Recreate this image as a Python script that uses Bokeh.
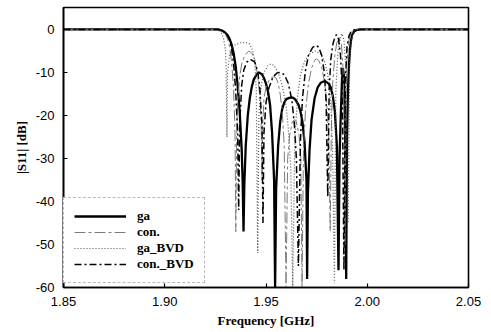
from bokeh.plotting import figure
from bokeh.models import FixedTicker, Range1d
from bokeh.embed import file_html
from bokeh.resources import INLINE

# ---- data (frequency in GHz, |S11| in dB) ----
x_ticks = [1.85, 1.90, 1.95, 2.00, 2.05]
x_tick_labels = ["1.85", "1.90", "1.95", "2.00", "2.05"]
y_ticks = [0, -10, -20, -30, -40, -50, -60]
y_tick_labels = ["0", "-10", "-20", "-30", "-40", "-50", "-60"]

series_names = ["ga", "con.", "ga_BVD", "con._BVD"]

ga = [(1.850, 0), (1.926, 0), (1.928, -0.2), (1.9295, -0.6), (1.931, -1.3), (1.932, -2.2),
      (1.933, -3.5), (1.934, -5.5), (1.935, -8.5), (1.936, -13), (1.937, -19), (1.938, -28),
      (1.9385, -36), (1.9389, -47), (1.9393, -36), (1.940, -27), (1.941, -20), (1.942, -16),
      (1.943, -13.3), (1.944, -11.6), (1.9455, -10.4), (1.9465, -10), (1.948, -10.4),
      (1.949, -11.3), (1.950, -12.6), (1.951, -14.5), (1.952, -17.5), (1.953, -24), (1.954, -35),
      (1.9545, -60), (1.955, -37), (1.956, -27), (1.957, -21.5), (1.958, -18.5), (1.959, -17),
      (1.960, -16.2), (1.9615, -15.9), (1.9625, -15.8), (1.9635, -15.9), (1.9645, -16.3),
      (1.966, -17.5), (1.967, -19), (1.968, -21.5), (1.969, -26), (1.970, -35), (1.9703, -58),
      (1.9707, -38), (1.9715, -28), (1.9725, -21), (1.974, -16), (1.9755, -13.5), (1.977, -12.4),
      (1.979, -12), (1.981, -12.6), (1.982, -13.5), (1.983, -15.5), (1.984, -19), (1.985, -27),
      (1.9858, -56), (1.9863, -30), (1.9868, -22), (1.9875, -12), (1.988, -9), (1.9885, -11),
      (1.989, -20), (1.9896, -58), (1.990, -25), (1.9905, -14), (1.991, -8), (1.9915, -4.5),
      (1.992, -2.5), (1.9925, -1.3), (1.9935, -0.5), (1.995, -0.1), (1.997, 0), (2.050, 0)]

con = [(1.850, 0), (1.926, 0), (1.928, -0.3), (1.930, -1.2), (1.931, -2.2), (1.932, -4),
       (1.933, -7.5), (1.934, -14), (1.9347, -24), (1.9351, -47), (1.9355, -25), (1.936, -17),
       (1.937, -11), (1.938, -8), (1.9395, -6), (1.9415, -5), (1.943, -5.5), (1.9445, -7),
       (1.946, -11), (1.947, -16), (1.9476, -22), (1.948, -35), (1.9484, -22), (1.949, -16),
       (1.950, -13.5), (1.9515, -11.8), (1.953, -11.1), (1.954, -11), (1.955, -11.3),
       (1.956, -12.5), (1.957, -15), (1.958, -19), (1.959, -27), (1.9599, -60), (1.9607, -30),
       (1.9617, -24.5), (1.963, -21.5), (1.964, -21), (1.965, -21.5), (1.9663, -24.5),
       (1.9672, -30), (1.9678, -60), (1.9685, -28), (1.9695, -19), (1.971, -12.5), (1.9725, -9),
       (1.974, -7.2), (1.9748, -6.8), (1.976, -7.2), (1.9775, -8.8), (1.979, -12.5), (1.980, -17),
       (1.981, -25), (1.9817, -47), (1.9823, -22), (1.983, -12), (1.984, -6), (1.985, -3),
       (1.9862, -2), (1.9873, -3.5), (1.988, -9), (1.9885, -18), (1.989, -50), (1.9895, -15),
       (1.990, -7), (1.991, -2.5), (1.992, -0.8), (1.993, -0.2), (1.995, 0), (2.050, 0)]

ga_bvd = [(1.850, 0), (1.925, 0), (1.927, -0.3), (1.928, -0.8), (1.929, -2), (1.930, -5),
          (1.9303, -9), (1.9307, -25), (1.931, -10), (1.932, -6), (1.9335, -4.2), (1.935, -3.5),
          (1.9375, -3.1), (1.940, -3), (1.942, -3.4), (1.9435, -5), (1.9445, -8), (1.9452, -14),
          (1.9459, -52), (1.9465, -20), (1.9475, -13.5), (1.949, -10), (1.951, -8.4), (1.9525, -8),
          (1.954, -8.4), (1.956, -10), (1.958, -13), (1.960, -18), (1.961, -23), (1.9622, -32),
          (1.9632, -60), (1.9642, -26), (1.9655, -16), (1.967, -10.5), (1.969, -7.5),
          (1.9715, -5.7), (1.9745, -5), (1.977, -5.7), (1.979, -7.5), (1.9805, -10.5),
          (1.9818, -16), (1.9828, -26), (1.9838, -59), (1.9845, -14), (1.9855, -5.5),
          (1.9865, -2), (1.9875, -1), (1.9885, -2.5), (1.9895, -9), (1.9905, -45), (1.9913, -8),
          (1.992, -3), (1.993, -0.8), (1.994, -0.2), (1.996, 0), (2.050, 0)]

con_bvd = [(1.850, 0), (1.927, 0), (1.929, -0.5), (1.931, -1.5), (1.932, -2.5), (1.933, -4.5),
           (1.934, -8), (1.935, -14), (1.936, -24), (1.9365, -42), (1.937, -22), (1.938, -13),
           (1.939, -9.5), (1.9405, -7.6), (1.9425, -7), (1.9445, -7.6), (1.946, -10), (1.947, -14),
           (1.948, -22), (1.9485, -45), (1.949, -24), (1.950, -17), (1.9515, -13.5), (1.9535, -11),
           (1.9555, -10.1), (1.9572, -10), (1.959, -10.5), (1.961, -12.5), (1.9628, -16.5),
           (1.964, -22), (1.965, -30), (1.966, -55), (1.967, -26), (1.968, -16), (1.9695, -9.5),
           (1.971, -6), (1.973, -4.2), (1.9745, -3.7), (1.976, -4.1), (1.9775, -6), (1.9788, -10),
           (1.9797, -17), (1.9805, -39), (1.9812, -14), (1.982, -7), (1.983, -3.5), (1.984, -1.8),
           (1.9848, -1.2), (1.9858, -2.2), (1.9868, -6), (1.9877, -15), (1.9885, -56),
           (1.9892, -12), (1.990, -4), (1.991, -1.5), (1.992, -0.5), (1.9935, -0.1), (1.995, 0),
           (2.050, 0)]

# ---- figure ----
p = figure(width=491, height=332, output_backend="svg", toolbar_location=None,
           x_range=Range1d(1.85, 2.05), y_range=Range1d(-60, 5.1),
           min_border_left=63, min_border_right=23, min_border_top=7, min_border_bottom=45)
p.background_fill_color = "white"
p.border_fill_color = "white"
p.xgrid.visible = False
p.ygrid.visible = False
p.outline_line_color = "black"
p.outline_line_width = 1.6
p.outline_line_alpha = 1.0

styles = [
    dict(line_color="black", line_width=2.3),
    dict(line_color="#7a7a7a", line_width=1.0, line_dash="11 3 3 3"),
    dict(line_color="#555555", line_width=1.2, line_dash="1 2"),
    dict(line_color="black", line_width=1.5, line_dash="7 3 2 3"),
]
for name, pts, st in zip(series_names, [ga, con, ga_bvd, con_bvd], styles):
    xs = [a for a, b in pts]
    ys = [b for a, b in pts]
    p.line(xs, ys, legend_label=name, **st)

for ax in (p.xaxis[0], p.yaxis[0]):
    ax.axis_line_width = 1.6
    ax.axis_line_color = "black"
    ax.major_tick_in = 4
    ax.major_tick_out = 0
    ax.minor_tick_in = 0
    ax.minor_tick_out = 0
    ax.major_tick_line_color = "black"
    ax.major_tick_line_width = 1.2
    ax.major_label_text_font = "Liberation Sans"
    ax.major_label_text_font_size = "13px"
    ax.major_label_text_color = "black"
    ax.axis_label_text_font = "Liberation Serif"
    ax.axis_label_text_font_style = "bold"
    ax.axis_label_text_font_size = "13px"
    ax.axis_label_text_color = "black"
    ax.major_label_standoff = 9
    ax.axis_label_standoff = 4

p.xaxis[0].ticker = FixedTicker(ticks=x_ticks)
p.xaxis[0].major_label_overrides = dict(zip(x_ticks, x_tick_labels))
p.yaxis[0].ticker = FixedTicker(ticks=y_ticks)
p.yaxis[0].major_label_overrides = dict(zip(y_ticks, y_tick_labels))
p.xaxis[0].axis_label = "Frequency [GHz]"
p.yaxis[0].axis_label = "|S11| [dB]"

lg = p.legend[0]
lg.location = (0, 4)
lg.margin = 0
lg.padding = 10
lg.spacing = 0
lg.glyph_width = 52
lg.glyph_height = 16
lg.label_height = 16
lg.label_standoff = 11
lg.label_text_font = "Liberation Serif"
lg.label_text_font_style = "bold"
lg.label_text_font_size = "13px"
lg.label_text_color = "black"
lg.border_line_color = "#777777"
lg.border_line_dash = "2 2"
lg.border_line_width = 1
lg.background_fill_color = "white"
lg.background_fill_alpha = 1.0

open("out.html", "w").write(file_html(p, INLINE))
